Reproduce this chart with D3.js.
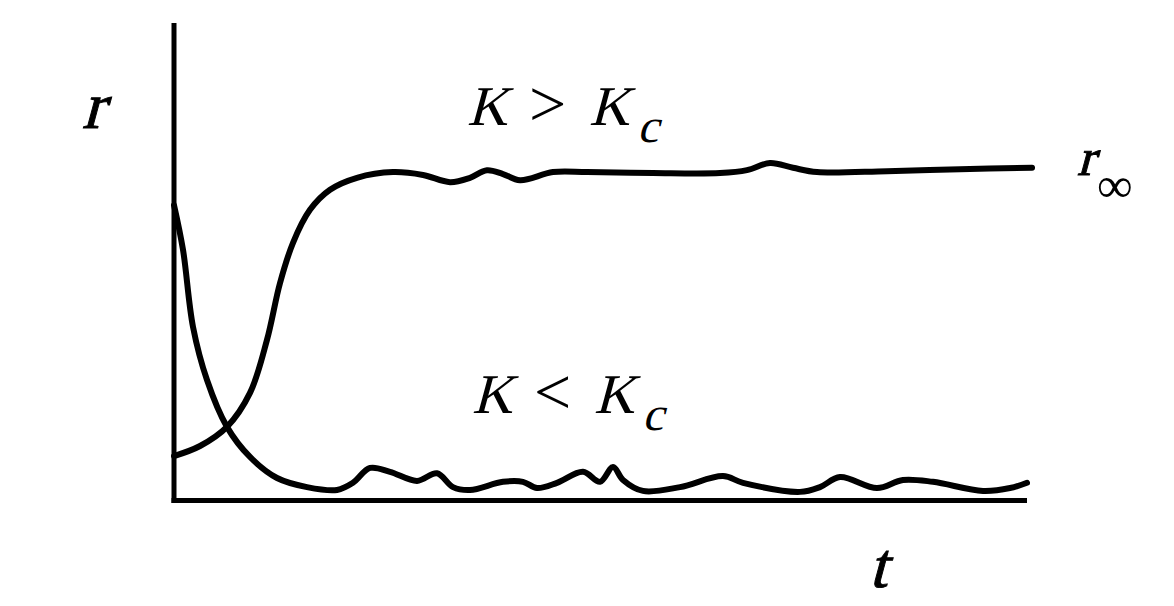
<!DOCTYPE html>
<html>
<head>
<meta charset="utf-8">
<script src="https://cdn.jsdelivr.net/npm/d3@7"></script>
<style>
  html, body { margin: 0; padding: 0; background: #fff; }
  svg { display: block; }
</style>
</head>
<body>
<svg id="chart" width="1174" height="606"></svg>
<script>
// Time axis (arbitrary units 0..100) and order parameter r (0..1)
const tAbove = [0, 3.05, 6.21, 8.91, 10.90, 12.43, 13.95, 15.94, 18.29, 21.45, 25.67, 29.19, 32.36, 34.70, 36.69, 38.57, 40.56, 44.43, 48.42, 56.15, 64.01, 67.17, 69.87, 72.57, 75.38, 83.59, 92.15, 100.59];
const rAbove = [0.092, 0.113, 0.153, 0.224, 0.335, 0.454, 0.538, 0.607, 0.649, 0.674, 0.686, 0.680, 0.665, 0.674, 0.690, 0.682, 0.669, 0.686, 0.686, 0.684, 0.684, 0.690, 0.705, 0.695, 0.686, 0.688, 0.692, 0.695];

const tBelow = [0, 1.06, 2.23, 3.87, 6.21, 8.91, 12.08, 15.59, 19.11, 20.98, 22.98, 25.32, 28.49, 30.83, 32.71, 34.70, 38.57, 40.91, 42.56, 44.90, 47.95, 49.94, 51.47, 52.64, 54.98, 59.32, 64.36, 66.71, 73.39, 75.73, 78.08, 82.42, 85.46, 88.98, 94.84, 98.01, 100];
const rBelow = [0.617, 0.523, 0.362, 0.251, 0.153, 0.090, 0.046, 0.027, 0.021, 0.036, 0.067, 0.059, 0.040, 0.056, 0.027, 0.021, 0.038, 0.038, 0.025, 0.036, 0.059, 0.038, 0.069, 0.042, 0.019, 0.027, 0.050, 0.036, 0.017, 0.027, 0.048, 0.025, 0.042, 0.038, 0.019, 0.025, 0.036];

const labelAbove = "K > K";
const labelBelow = "K < K";
const subC = "c";
const yLabel = "r";
const xLabel = "t";
const rInfLabel = "r";
const infSymbol = "∞";

const FONT = "'Liberation Serif', 'Times New Roman', serif";

const svg = d3.select("#chart");
const x = d3.scaleLinear().domain([0, 100]).range([174, 1027]);
const y = d3.scaleLinear().domain([0, 1]).range([500, 22]);

const line = d3.line()
  .x(d => x(d[0]))
  .y(d => y(d[1]))
  .curve(d3.curveCatmullRom.alpha(0.5));

// axes (plain lines, no ticks)
svg.append("line")
  .attr("x1", x(0)).attr("x2", x(0))
  .attr("y1", 23).attr("y2", y(0) + 3)
  .attr("stroke", "#000").attr("stroke-width", 5);
svg.append("line")
  .attr("x1", x(0) - 2.5).attr("x2", x(100))
  .attr("y1", y(0) + 0.5).attr("y2", y(0) + 0.5)
  .attr("stroke", "#000").attr("stroke-width", 5);

[[tAbove, rAbove], [tBelow, rBelow]].forEach(([ts, rs]) => {
  svg.append("path")
    .datum(ts.map((t, i) => [t, rs[i]]))
    .attr("d", line)
    .attr("fill", "none").attr("stroke", "#000")
    .attr("stroke-width", 6).attr("stroke-linecap", "round").attr("stroke-linejoin", "round");
});

// italic serif faces are not installed: slant the upright serif face instead
function txt(s, px, py, size, italic, weight) {
  return svg.append("text")
    .attr("transform", `translate(${px},${py})` + (italic ? " skewX(-15)" : ""))
    .style("font-family", FONT).style("font-size", size + "px")
    .style("font-weight", weight || "normal")
    .style("stroke", weight ? "#000" : "none").style("stroke-width", weight ? 1 : 0)
    .attr("fill", "#000").text(s);
}

function kLabel(str, x0, base, subBase) {
  const parts = str.split(" ");
  txt(parts[0], x0, base, 56, true);
  txt(parts[1], x0 + 62, base + 1, 66, false);
  txt(parts[2], x0 + 122, base, 56, true);
  txt(subC, x0 + 170, subBase, 48, true);
}
kLabel(labelAbove, 467, 125, 142);
kLabel(labelBelow, 472, 413, 430);

txt(yLabel, 82, 128, 66, true, "normal");
txt(xLabel, 869, 587, 64, true, "normal");
txt(rInfLabel, 1077, 175, 52, true, "normal");
txt(infSymbol, 1097, 202, 50, false);
</script>
</body>
</html>
